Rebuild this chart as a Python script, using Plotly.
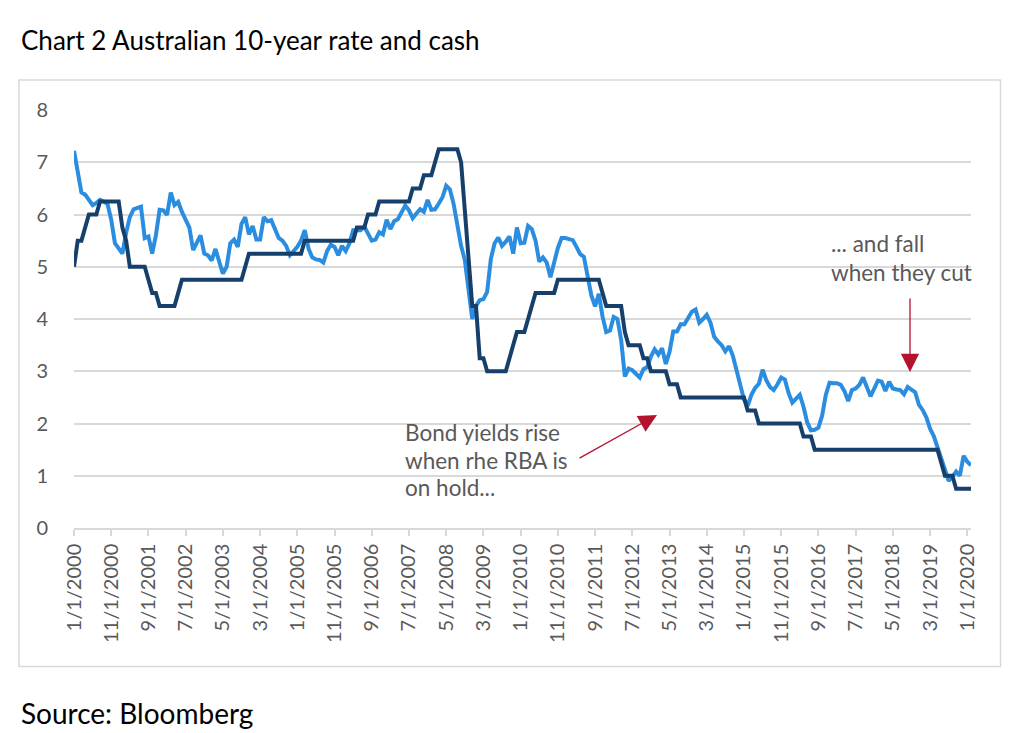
import pandas as pd
import plotly.graph_objects as go

# monthly observations, Jan 2000 .. Feb 2020
dates = pd.date_range("2000-01-01", "2020-02-01", freq="MS")
labels = [f"{d.month}/1/{d.year}" for d in dates]
tick_labels = labels[::10]

# Australian 10-year bond yield (%), one row per year
ten_year = [
    7.22, 6.80, 6.42, 6.38, 6.28, 6.18, 6.22, 6.28, 6.25, 6.20, 5.90, 5.45,  # 2000
    5.35, 5.25, 5.65, 5.95, 6.10, 6.12, 6.15, 5.55, 5.58, 5.25, 5.60, 6.09,  # 2001
    6.08, 5.99, 6.42, 6.18, 6.24, 6.05, 5.90, 5.75, 5.32, 5.48, 5.60, 5.25,  # 2002
    5.22, 5.12, 5.34, 5.10, 4.87, 5.00, 5.45, 5.52, 5.38, 5.82, 5.95, 5.62,  # 2003
    5.78, 5.52, 5.52, 5.95, 5.87, 5.89, 5.70, 5.55, 5.50, 5.40, 5.22, 5.30,  # 2004
    5.38, 5.50, 5.70, 5.35, 5.18, 5.14, 5.13, 5.08, 5.30, 5.42, 5.38, 5.22,  # 2005
    5.40, 5.30, 5.45, 5.70, 5.70, 5.70, 5.77, 5.64, 5.50, 5.52, 5.66, 5.62,  # 2006
    5.90, 5.72, 5.87, 5.91, 6.05, 6.17, 6.08, 5.93, 6.02, 6.10, 6.05, 6.28,  # 2007
    6.09, 6.10, 6.21, 6.33, 6.55, 6.48, 6.20, 5.75, 5.40, 5.13, 4.55, 4.00,  # 2008
    4.25, 4.36, 4.38, 4.52, 5.15, 5.45, 5.56, 5.40, 5.48, 5.58, 5.25, 5.75,  # 2009
    5.45, 5.46, 5.78, 5.72, 5.50, 5.10, 5.18, 5.08, 4.80, 5.10, 5.36, 5.55,  # 2010
    5.55, 5.53, 5.51, 5.38, 5.24, 5.19, 4.85, 4.45, 4.24, 4.48, 4.05, 3.75,  # 2011
    3.78, 4.04, 4.00, 3.60, 2.90, 3.05, 3.02, 2.94, 2.88, 3.04, 3.08, 3.28,  # 2012
    3.42, 3.32, 3.44, 3.14, 3.37, 3.76, 3.76, 3.90, 3.90, 4.02, 4.14, 4.18,  # 2013
    3.93, 4.00, 4.08, 3.93, 3.66, 3.57, 3.50, 3.38, 3.48, 3.30, 3.02, 2.76,  # 2014
    2.46, 2.34, 2.55, 2.68, 2.76, 3.03, 2.83, 2.70, 2.64, 2.75, 2.88, 2.84,  # 2015
    2.58, 2.40, 2.47, 2.55, 2.32, 2.02, 1.87, 1.88, 1.92, 2.15, 2.55, 2.78,  # 2016
    2.77, 2.77, 2.74, 2.62, 2.43, 2.64, 2.67, 2.74, 2.88, 2.70, 2.52, 2.67,  # 2017
    2.82, 2.80, 2.62, 2.80, 2.67, 2.65, 2.64, 2.56, 2.70, 2.65, 2.60, 2.36,  # 2018
    2.26, 2.12, 1.90, 1.76, 1.55, 1.30, 1.10, 0.90, 0.98, 1.08, 1.00, 1.38,  # 2019
    1.27, 1.20,                                                              # 2020
]

# RBA cash rate (%)
cash = [
    5.00, 5.50, 5.50, 5.75, 6.00, 6.00, 6.00, 6.25, 6.25, 6.25, 6.25, 6.25,  # 2000
    6.25, 5.75, 5.50, 5.00, 5.00, 5.00, 5.00, 5.00, 4.75, 4.50, 4.50, 4.25,  # 2001
    4.25, 4.25, 4.25, 4.25, 4.50, 4.75, 4.75, 4.75, 4.75, 4.75, 4.75, 4.75,  # 2002
    4.75, 4.75, 4.75, 4.75, 4.75, 4.75, 4.75, 4.75, 4.75, 4.75, 5.00, 5.25,  # 2003
    5.25, 5.25, 5.25, 5.25, 5.25, 5.25, 5.25, 5.25, 5.25, 5.25, 5.25, 5.25,  # 2004
    5.25, 5.25, 5.50, 5.50, 5.50, 5.50, 5.50, 5.50, 5.50, 5.50, 5.50, 5.50,  # 2005
    5.50, 5.50, 5.50, 5.50, 5.75, 5.75, 5.75, 6.00, 6.00, 6.00, 6.25, 6.25,  # 2006
    6.25, 6.25, 6.25, 6.25, 6.25, 6.25, 6.25, 6.50, 6.50, 6.50, 6.75, 6.75,  # 2007
    6.75, 7.00, 7.25, 7.25, 7.25, 7.25, 7.25, 7.25, 7.00, 6.00, 5.25, 4.25,  # 2008
    4.25, 3.25, 3.25, 3.00, 3.00, 3.00, 3.00, 3.00, 3.00, 3.25, 3.50, 3.75,  # 2009
    3.75, 3.75, 4.00, 4.25, 4.50, 4.50, 4.50, 4.50, 4.50, 4.50, 4.75, 4.75,  # 2010
    4.75, 4.75, 4.75, 4.75, 4.75, 4.75, 4.75, 4.75, 4.75, 4.75, 4.50, 4.25,  # 2011
    4.25, 4.25, 4.25, 4.25, 3.75, 3.50, 3.50, 3.50, 3.50, 3.25, 3.25, 3.00,  # 2012
    3.00, 3.00, 3.00, 3.00, 2.75, 2.75, 2.75, 2.50, 2.50, 2.50, 2.50, 2.50,  # 2013
    2.50, 2.50, 2.50, 2.50, 2.50, 2.50, 2.50, 2.50, 2.50, 2.50, 2.50, 2.50,  # 2014
    2.50, 2.25, 2.25, 2.25, 2.00, 2.00, 2.00, 2.00, 2.00, 2.00, 2.00, 2.00,  # 2015
    2.00, 2.00, 2.00, 2.00, 1.75, 1.75, 1.75, 1.50, 1.50, 1.50, 1.50, 1.50,  # 2016
    1.50, 1.50, 1.50, 1.50, 1.50, 1.50, 1.50, 1.50, 1.50, 1.50, 1.50, 1.50,  # 2017
    1.50, 1.50, 1.50, 1.50, 1.50, 1.50, 1.50, 1.50, 1.50, 1.50, 1.50, 1.50,  # 2018
    1.50, 1.50, 1.50, 1.50, 1.50, 1.25, 1.00, 1.00, 1.00, 0.75, 0.75, 0.75,  # 2019
    0.75, 0.75,                                                              # 2020
]

note_hold = ["Bond yields rise", "when rhe RBA is", "on hold..."]
note_cut = ["... and fall", "when they cut"]

FONT = "Lato"
GREY = "#595959"
GRID = "#d9d9d9"
RED = "#b5122e"

# plot area in page pixels
L, R, T, B = 74, 971, 110, 528


def px(x):
    return (x - L) / (R - L)


def py(y):
    return (B - y) / (B - T)


def text_at(x, y, text, size, color=GREY):
    fig.add_annotation(xref="paper", yref="paper", x=px(x), y=py(y), text=text,
                       showarrow=False, xanchor="left", yanchor="middle",
                       font=dict(family=FONT, size=size, color=color))


fig = go.Figure()
fig.add_trace(go.Scatter(x=labels, y=ten_year, mode="lines", name="10-year",
                         line=dict(color="#2b8ddf", width=4)))
fig.add_trace(go.Scatter(x=labels, y=cash, mode="lines", name="Cash",
                         line=dict(color="#163f6b", width=4)))

fig.update_xaxes(type="category", range=[0, len(labels) - 1],
                 tickmode="array", tickvals=tick_labels, ticktext=tick_labels,
                 tickangle=-90, ticks="outside", ticklen=6, tickcolor=GRID, tickwidth=1.5,
                 showline=True, linecolor=GRID, linewidth=1.5, showgrid=False,
                 tickfont=dict(family=FONT, size=20, color=GREY))
fig.update_yaxes(range=[0, 8], dtick=1, showgrid=True, gridcolor=GRID, gridwidth=1.5,
                 zeroline=False, showline=False, ticklabelstandoff=25,
                 tickfont=dict(family=FONT, size=20, color=GREY))

# outer chart frame
fig.add_shape(type="rect", xref="paper", yref="paper",
              x0=px(19), x1=px(1000.5), y0=py(80), y1=py(666.5),
              line=dict(color=GRID, width=1.5), layer="below")

text_at(19, 40, "Chart 2 Australian 10-year rate and cash", 26, "black")
text_at(19, 713, "Source: Bloomberg", 28, "black")

for k, line in enumerate(note_hold):
    text_at(403, 432.5 + 27.5 * k, line, 22.5)
for k, line in enumerate(note_cut):
    text_at(829, 243 + 29 * k, line, 22.5)

# red arrows
fig.add_annotation(xref="paper", yref="paper", x=px(657), y=py(415), text="",
                   showarrow=True, ax=-79, ay=44, arrowhead=2, arrowsize=2.8,
                   arrowwidth=1.3, arrowcolor=RED)
fig.add_annotation(xref="paper", yref="paper", x=px(910), y=py(372), text="",
                   showarrow=True, ax=0, ay=-75, arrowhead=2, arrowsize=2.8,
                   arrowwidth=1.3, arrowcolor=RED)

fig.update_layout(width=1024, height=733, showlegend=False,
                  margin=dict(l=L, r=1024 - R, t=T, b=733 - B),
                  paper_bgcolor="white", plot_bgcolor="white",
                  font=dict(family=FONT, color=GREY))

fig.write_html("out.html", config={"displayModeBar": False},
               post_script="document.body.style.margin='0';")
